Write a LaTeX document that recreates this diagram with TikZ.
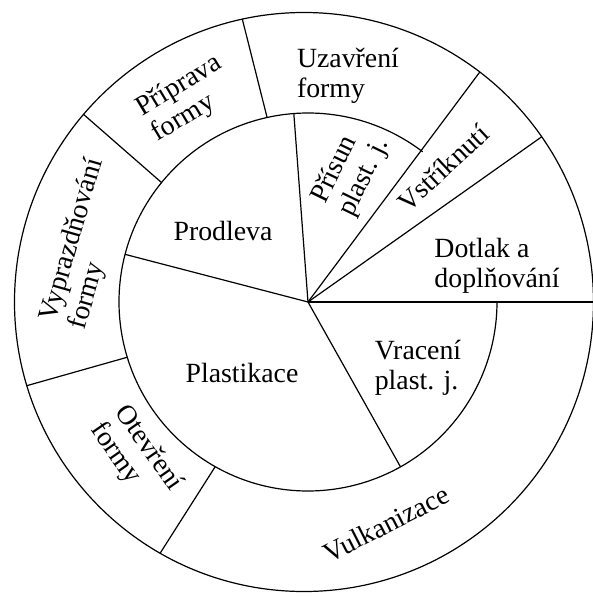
\documentclass[tikz,border=0pt]{standalone}
\usepackage{fontspec}
\setmainfont{Liberation Serif}
\usetikzlibrary{calc}

\begin{document}
\begin{tikzpicture}[
        x=0.5pt, y=0.5pt,
        every node/.style={font=\fontsize{13.9}{15}\selectfont, inner sep=0pt},
        phase/.style={align=left},
        ring/.style={line width=0.6pt},
    ]
        \useasboundingbox (-308,-294) rectangle (285,302);
        \coordinate (M) at (0,0);
        \coordinate (O) at (-4,0);

        % Circles
        \draw[ring] (O) circle (289.5);
        \draw[ring] ($(M)+(52.6:189)$) arc (52.6:360:189);

        % Points on the outer circle
        \coordinate (o1) at ($(O)+(0:289.5)$);
        \coordinate (o2) at ($(O)+(34.8:289.5)$);
        \coordinate (o3) at ($(O)+(52.6:289.5)$);
        \coordinate (o4) at ($(O)+(102.3:289.5)$);
        \coordinate (o5) at ($(O)+(139.6:289.5)$);
        \coordinate (o6) at ($(O)+(196.8:289.5)$);
        \coordinate (o7) at ($(O)+(240.2:289.5)$);

        % Points on the middle circle
        \coordinate (m1) at ($(M)+(94.3:189)$);
        \coordinate (m2) at ($(M)+(102.5:189)$);
        \coordinate (m3) at ($(M)+(140.8:189)$);
        \coordinate (m4) at ($(M)+(165.4:189)$);
        \coordinate (m5) at ($(M)+(197:189)$);
        \coordinate (m6) at ($(M)+(240.6:189)$);
        \coordinate (m7) at ($(M)+(299.3:189)$);

        % Edges
        \draw[ring] (M) -- (o1);
        \draw[ring] (M) -- (o2);
        \draw[ring] (M) -- (o3);
        \draw[ring] (M) -- (m1);
        \draw[ring] (m2) -- (o4);
        \draw[ring] (m3) -- (o5);
        \draw[ring] (M) -- (m4);
        \draw[ring] (m5) -- (o6);
        \draw[ring] (m6) -- (o7);
        \draw[ring] (M) -- (m7);

        % Phases
        \node[phase, rotate=31] (priprava) at (-121,203) {Příprava\\formy};
        \node[phase] (uzavreni) at (40,226) {Uzavření\\formy};
        \node[phase, rotate=64] (prisun) at (43,131) {Přísun\\plast. j.};
        \node[rotate=43] (vstriknuti) at (135,134) {Vstříknutí};
        \node[phase] (dotlak) at (189,36) {Dotlak a\\doplňování};
        \node (prodleva) at (-85,71) {Prodleva};
        \node (plastikace) at (-66,-71) {Plastikace};
        \node[phase] (vraceni) at (110,-66) {Vracení\\plast. j.};
        \node[phase, rotate=74] (vyprazdnovani) at (-221,58) {Vyprazdňování\\formy};
        \node[phase, rotate=-55] (otevreni) at (-172,-155) {Otevření\\formy};
        \node[rotate=27] (vulkanizace) at (78,-222) {Vulkanizace};
    \end{tikzpicture}
\end{document}
